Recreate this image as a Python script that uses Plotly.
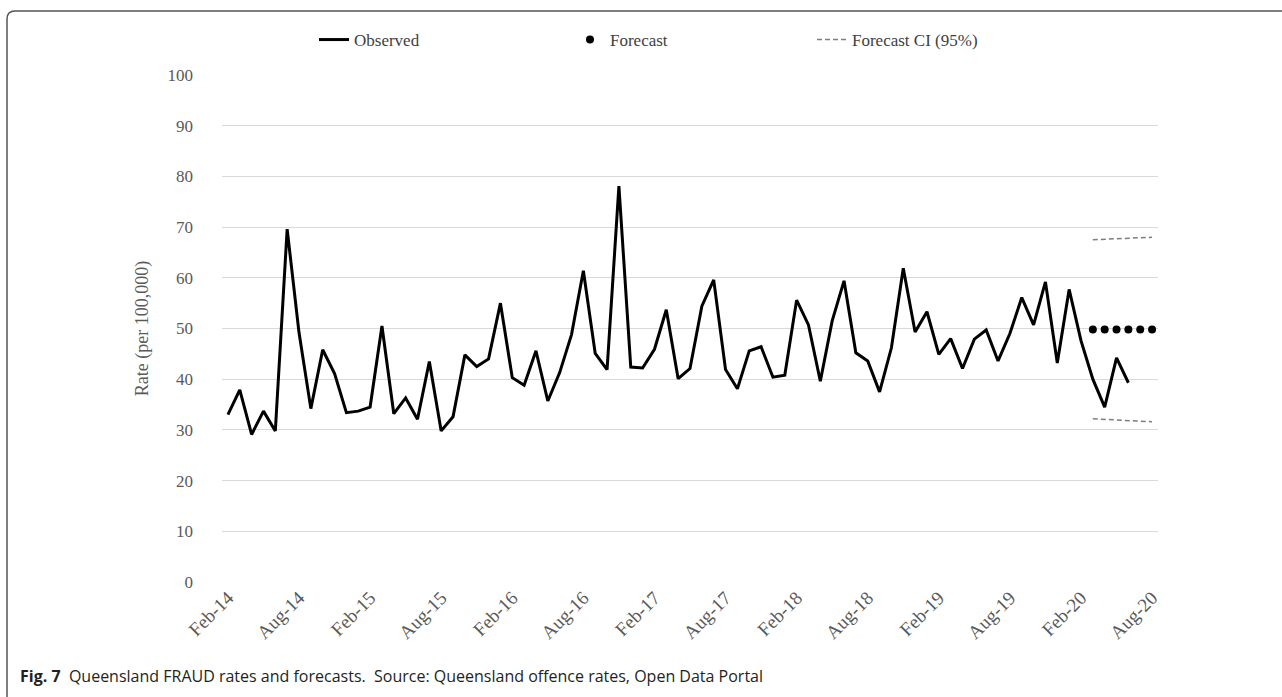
import plotly.graph_objects as go

# ---- data ----
tick_labels = ["Feb-14", "Aug-14", "Feb-15", "Aug-15", "Feb-16", "Aug-16", "Feb-17",
               "Aug-17", "Feb-18", "Aug-18", "Feb-19", "Aug-19", "Feb-20", "Aug-20"]
tick_index = [0, 6, 12, 18, 24, 30, 36, 42, 48, 54, 60, 66, 72, 78]

observed = [33.0, 37.9, 29.1, 33.7, 29.8, 69.6, 49.2, 34.2, 45.8, 41.1, 33.4, 33.7,
            34.5, 50.5, 33.2, 36.3, 32.1, 43.5, 29.8, 32.6, 44.8, 42.5, 44.0, 55.0,
            40.3, 38.8, 45.6, 35.7, 41.3, 48.8, 61.4, 45.1, 41.9, 78.1, 42.4, 42.2,
            45.9, 53.7, 40.1, 42.1, 54.4, 59.6, 41.9, 38.1, 45.6, 46.4, 40.4, 40.8,
            55.6, 50.7, 39.6, 51.5, 59.4, 45.2, 43.6, 37.5, 46.2, 61.9, 49.3, 53.3,
            44.9, 48.0, 42.1, 47.9, 49.7, 43.6, 49.0, 56.1, 50.7, 59.2, 43.2, 57.7,
            47.6, 40.0, 34.5, 44.2, 39.3]
observed_index = list(range(len(observed)))

forecast_index = [73, 74, 75, 76, 77, 78]
forecast = [49.8, 49.8, 49.8, 49.8, 49.8, 49.8]
ci_upper = [67.5, 67.6, 67.7, 67.8, 67.9, 68.0]
ci_lower = [32.2, 32.1, 32.0, 31.9, 31.8, 31.6]

# ---- layout geometry (pixels) ----
W, H = 1282, 697
L, R, T, B = 222, 124, 75, 115
PW, PH = W - L - R, H - T - B

def px(x):
    return (x - L) / PW

def py(y):
    return (H - B - y) / PH

SERIF = "Liberation Serif, DejaVu Serif, serif"
SANS = "Open Sans, Noto Sans, sans-serif"

fig = go.Figure()
fig.add_trace(go.Scatter(x=observed_index, y=observed, mode="lines", name="Observed",
                         line=dict(color="black", width=3), legend="legend"))
fig.add_trace(go.Scatter(x=forecast_index, y=forecast, mode="markers", name="Forecast",
                         marker=dict(color="black", size=8), legend="legend2"))
fig.add_trace(go.Scatter(x=forecast_index, y=ci_upper, mode="lines", name="Forecast CI (95%)",
                         line=dict(color="#7f7f7f", width=1.5, dash="5px,3px"), legend="legend3"))
fig.add_trace(go.Scatter(x=forecast_index, y=ci_lower, mode="lines", name="Forecast CI (95%)",
                         line=dict(color="#7f7f7f", width=1.5, dash="5px,3px"), showlegend=False))

legend_font = dict(family=SERIF, size=17, color="#404040")
def leg(xpix):
    return dict(xref="container", yref="container", x=xpix / W, y=1 - 40 / H,
                xanchor="left", yanchor="middle",
                orientation="h", font=legend_font, bgcolor="rgba(0,0,0,0)",
                itemwidth=30, tracegroupgap=0)

# frame path: top line at y=11, left line at x=7, rounded corner
r = 8
path = (f"M {px(W)},{py(11)} L {px(7 + r)},{py(11)} "
        f"Q {px(7)},{py(11)} {px(7)},{py(11 + r)} L {px(7)},{py(H)}")

fig.update_layout(
    width=W, height=H,
    margin=dict(l=L, r=R, t=T, b=B, autoexpand=False),
    paper_bgcolor="white", plot_bgcolor="white",
    showlegend=True,
    legend=leg(314),
    legend2=leg(570),
    legend3=leg(812),
    xaxis=dict(range=[-0.5, 78.5], tickmode="array", tickvals=tick_index, ticktext=tick_labels,
               tickangle=-45, showgrid=False, zeroline=False, showline=False,
               tickfont=dict(family=SERIF, size=19, color="#595959"), ticks=""),
    yaxis=dict(range=[0, 100], dtick=10, showgrid=True, gridcolor="#d9d9d9", gridwidth=1.3,
               zeroline=False, showline=False, ticks="",
               tickfont=dict(family=SERIF, size=17, color="#595959"),
               ticklabelstandoff=28,
               title=dict(text="Rate (per 100,000)", standoff=14,
                          font=dict(family=SERIF, size=18, color="#595959"))),
    shapes=[dict(type="path", xref="paper", yref="paper", path=path,
                 line=dict(color="#555555", width=1.5))],
    annotations=[dict(xref="paper", yref="paper", x=px(18), y=py(676), xanchor="left",
                      yanchor="middle", showarrow=False,
                      text="<b>Fig. 7</b>  Queensland FRAUD rates and forecasts.  Source: Queensland offence rates, Open Data Portal",
                      font=dict(family=SANS, size=16, color="#231f20"))],
)

fig.write_html("out.html", config={"displayModeBar": False},
               post_script="document.body.style.margin='0px';document.body.style.overflow='hidden';")
